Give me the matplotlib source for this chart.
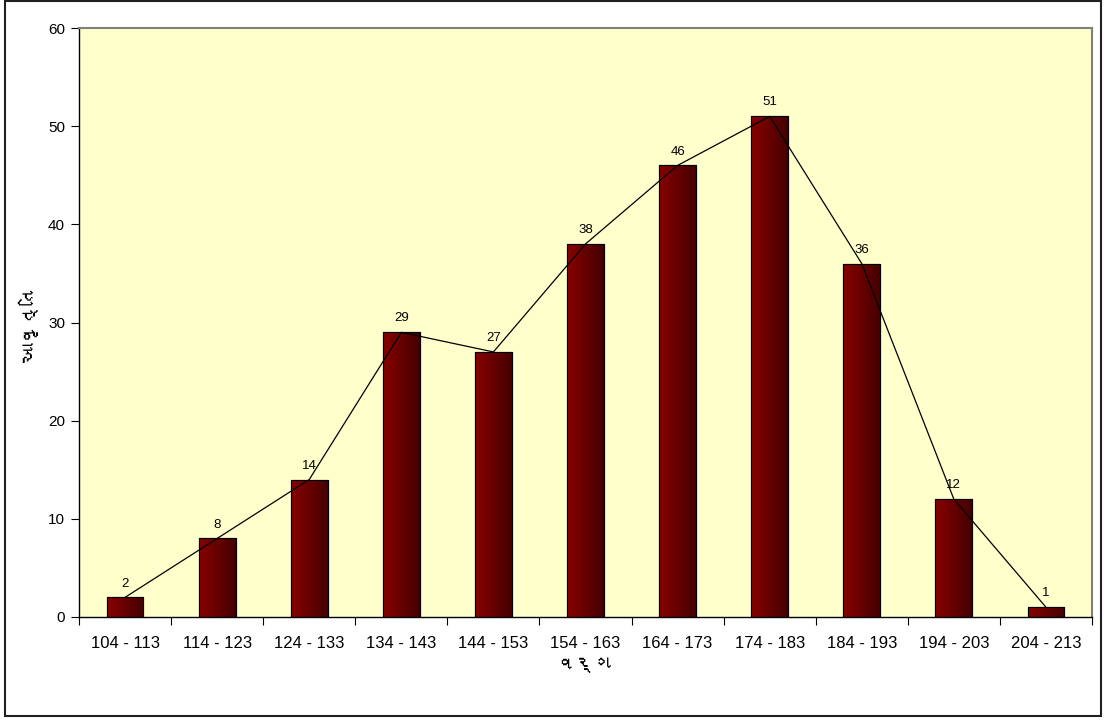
import matplotlib
matplotlib.use("Agg")
import matplotlib.pyplot as plt
import numpy as np
from matplotlib import font_manager
from matplotlib.ft2font import FT2Font
from matplotlib.patches import Rectangle
from matplotlib.colors import LinearSegmentedColormap

## Data
classes = ['104 - 113', '114 - 123', '124 - 133', '134 - 143', '144 - 153', '154 - 163',
           '164 - 173', '174 - 183', '184 - 193', '194 - 203', '204 - 213']
freq = [2, 8, 14, 29, 27, 38, 46, 51, 36, 12, 1]
x_label = 'વર્ગ'
y_label = 'આવૃત્તિ'

## Look for any installed family that has Gujarati glyphs
guj_fams = []
for f in font_manager.fontManager.ttflist:
    try:
        cm = FT2Font(f.fname).get_charmap()
    except Exception:
        continue
    if 0x0A97 in cm and f.name not in guj_fams:
        guj_fams.append(f.name)

plt.rcParams['font.family'] = ['Liberation Sans'] + guj_fams + ['DejaVu Sans']

fig = plt.figure(figsize=(11.07, 7.2), dpi=100)
ax = fig.add_axes([79/1107, 1 - 617/720, (1092-79)/1107, (617-28)/720])
ax.set_facecolor('#FFFFCC')

x = np.arange(len(classes))
bar_width = 0.4
bars = ax.bar(x, freq, width=bar_width, color='#6a0000', edgecolor='black', linewidth=0.8, zorder=2)

## Gradient fill on each bar (left lighter red, right darker)
grad = np.linspace(0, 1, 64).reshape(1, -1)
cmap = LinearSegmentedColormap.from_list('br', ['#870000', '#450000'])
for b in bars:
    bx, by = b.get_x(), b.get_y()
    im = ax.imshow(grad, cmap=cmap, aspect='auto', zorder=2.5,
                   extent=[bx, bx + b.get_width(), by, by + b.get_height()])
    im.set_clip_path(b)
    ax.add_patch(Rectangle((bx, by), b.get_width(), b.get_height(), fill=False,
                           edgecolor='black', linewidth=0.8, zorder=3))

## Line through bar tops
ax.plot(x, freq, color='black', linewidth=0.9, zorder=4)

## Value labels
for xi, v in zip(x, freq):
    ax.text(xi, v + 0.8, str(v), ha='center', va='bottom', fontsize=9.5, zorder=5)

ax.set_xlim(-0.5, len(classes) - 0.5)
ax.set_ylim(0, 60)
ax.set_yticks(range(0, 61, 10))
ax.set_xticks(np.arange(-0.5, len(classes), 1), minor=False)
ax.set_xticklabels([])
ax.set_xticks(x, minor=True)
ax.set_xticklabels(classes, minor=True)
ax.tick_params(axis='x', which='minor', length=0, labelsize=12, pad=14)
ax.tick_params(axis='x', which='major', direction='out', length=6, width=0.8)
ax.tick_params(axis='y', direction='out', length=6, width=0.8, labelsize=11, pad=4)

for s in ['left', 'bottom']:
    ax.spines[s].set_color('black')
    ax.spines[s].set_linewidth(1.0)
for s in ['top', 'right']:
    ax.spines[s].set_color('#808080')
    ax.spines[s].set_linewidth(1.5)

ax.set_xlabel(x_label, fontsize=14, fontweight='bold', labelpad=4)
ax.set_ylabel(y_label, fontsize=14, fontweight='bold')
ax.yaxis.set_label_coords(-39/1013, 0.5)

## Figure border
fig.patches.append(Rectangle((5/1107, 4/720), 1096/1107, 716/720 - 4/720 + 0.004,
                             transform=fig.transFigure, fill=False,
                             edgecolor='#202020', linewidth=1.5))

fig.savefig('out.png', dpi=100)
